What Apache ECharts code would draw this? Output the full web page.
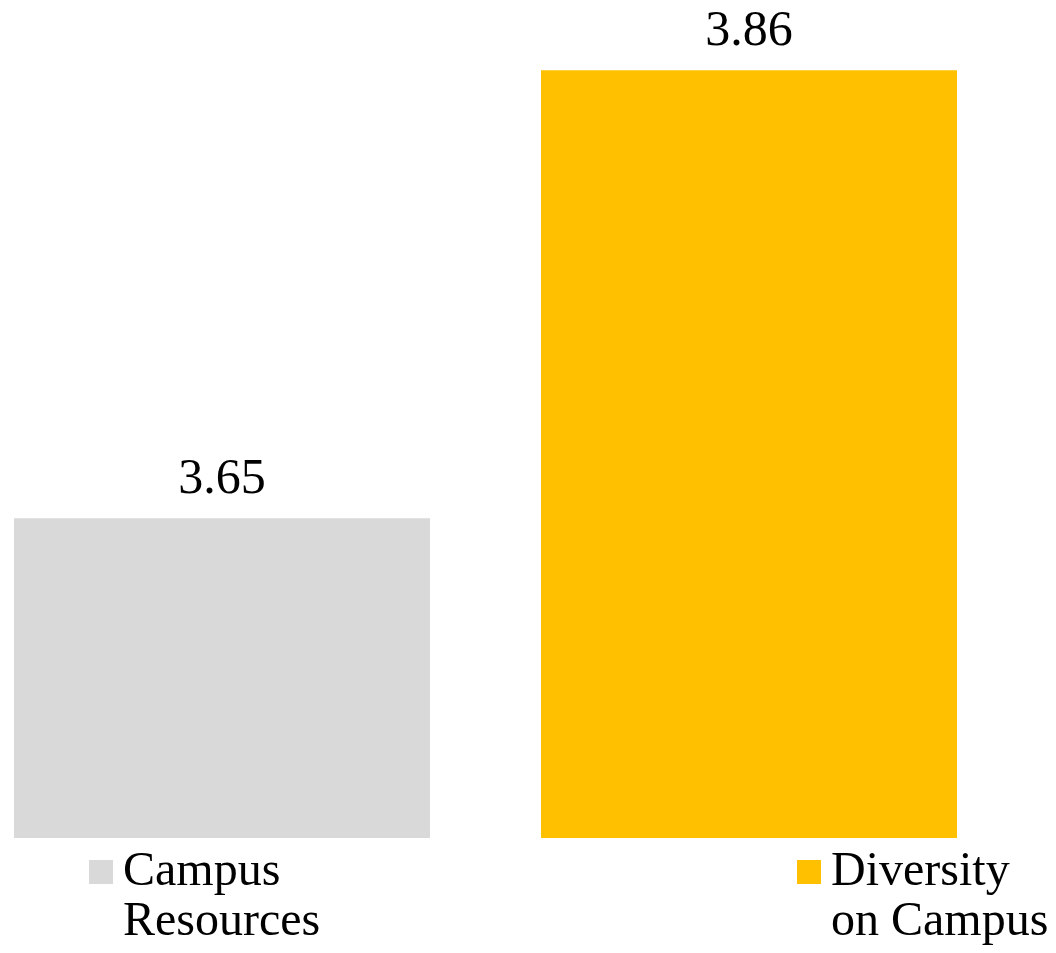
<!DOCTYPE html>
<html>
<head>
<meta charset="utf-8">
<style>
  html, body { margin: 0; padding: 0; background: #ffffff; }
  #chart { width: 1056px; height: 953px; }
</style>
<script src="https://cdn.jsdelivr.net/npm/echarts@6/dist/echarts.min.js"></script>
</head>
<body>
<div id="chart"></div>
<script>
// Mean scores for the two survey areas
const categories = ['Campus Resources', 'Diversity on Campus'];
const scores = [3.65, 3.86];
const colors = ['#D9D9D9', '#FFC000'];

const FONT = '"Liberation Serif", "Times New Roman", serif';

const chart = echarts.init(document.getElementById('chart'), null, { renderer: 'canvas' });

// One series per category so each gets its own legend entry;
// the bars overlap their empty slot via barGap -100%.
const series = categories.map((name, i) => ({
  name: name,
  type: 'bar',
  barWidth: 416,
  barGap: '-100%',
  itemStyle: { color: colors[i] },
  label: {
    show: true,
    position: 'top',
    distance: 13,
    formatter: p => p.value.toFixed(2),
    fontFamily: FONT,
    fontSize: 50,
    color: '#000000'
  },
  data: scores.map((v, j) => (j === i ? v : '-'))
}));

// Each legend entry sits under its own bar, wrapped onto two lines.
// A leading blank line keeps the first text line level with the swatch.
const legendLeft = [89, 797];
const legends = categories.map((name, i) => ({
  data: [name],
  left: legendLeft[i],
  top: 797,
  padding: 0,
  icon: 'rect',
  itemWidth: 24,
  itemHeight: 24,
  selectedMode: false,
  formatter: n => '\n' + n.replace(' ', '\n'),
  textStyle: {
    fontFamily: FONT,
    fontSize: 48,
    lineHeight: 50,
    color: '#000000',
    padding: [0, 0, 0, 5]
  }
}));

chart.setOption({
  animation: false,
  backgroundColor: '#ffffff',
  grid: {
    left: -41.5, width: 1054, top: -15, bottom: 115,
    containLabel: false, outerBoundsMode: 'none'
  },
  xAxis: {
    type: 'category',
    data: categories,
    axisLine: { show: false },
    axisTick: { show: false },
    axisLabel: { show: false },
    splitLine: { show: false }
  },
  yAxis: {
    type: 'value',
    min: 3.5,
    max: 3.9,
    show: false,
    splitLine: { show: false }
  },
  legend: legends,
  series: series
});
</script>
</body>
</html>
